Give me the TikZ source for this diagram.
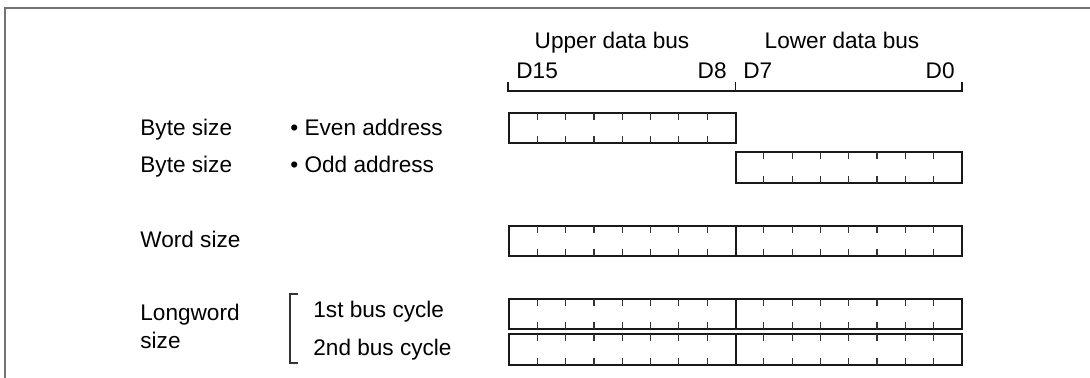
\documentclass[tikz,border=0pt]{standalone}
\usepackage{fontspec}
\setmainfont{Liberation Sans}
\usetikzlibrary{positioning}

\tikzset{
  lbl/.style={font=\fontsize{11.3}{13}\selectfont, inner sep=0pt, anchor=base west},
  regline/.style={line width=1pt, black!90},
  bitmark/.style={line width=0.6pt, black!80},
  frameline/.style={line width=0.9pt, black!55}
}

% one byte lane: 8 bits, left x and top y
\newcommand{\bytelane}[2]{%
  \draw[regline] (#1,#2) rectangle ++(226.5,30.5);
  \foreach \k in {1,...,7} {
    \draw[bitmark] ({#1+\k*28.3},#2) -- ++(0,7);
    \draw[bitmark] ({#1+\k*28.3},#2+30.5) -- ++(0,-7);
  }
}

\begin{document}
\begin{tikzpicture}[x=0.5pt, y=-0.5pt]
    \useasboundingbox (0,0) rectangle (1090,378);

    % Frame
    \draw[frameline] (1090,8) -- (5,8) -- (5,378);

    % Bus headings
    \node[lbl, anchor=base] (upperbus) at (612,49) {Upper data bus};
    \node[lbl, anchor=base] (lowerbus) at (842,49) {Lower data bus};
    \node[lbl] (d15) at (516,79) {D15};
    \node[lbl, anchor=base east] (d8) at (727,79) {D8};
    \node[lbl] (d7) at (743,79) {D7};
    \node[lbl, anchor=base east] (d0) at (955,79) {D0};
    \draw[regline, line width=0.7pt] (508,82) -- (508,91) -- (962,91) -- (962,82);
    \draw[regline, line width=0.7pt] (735.5,82) -- (735.5,91);

    % Byte size
    \node[lbl] (bytea) at (140,136) {Byte size};
    \node[lbl] (evenaddr) at (290,136) {\textbullet\ Even address};
    \node[lbl] (byteb) at (140,173) {Byte size};
    \node[lbl] (oddaddr) at (290,173) {\textbullet\ Odd address};
    \bytelane{509}{113}
    \bytelane{735.5}{152.5}

    % Word size
    \node[lbl] (word) at (140,248) {Word size};
    \bytelane{509}{226}
    \bytelane{735.5}{226}

    % Longword size
    \node[lbl] (longa) at (140,321) {Longword};
    \node[lbl] (longb) at (140,349) {size};
    \draw[bitmark, line width=0.7pt] (298,294) -- (290,294) -- (290,363) -- (298,363);
    \node[lbl] (cyc1) at (313,318) {1st bus cycle};
    \node[lbl] (cyc2) at (313,356) {2nd bus cycle};
    \bytelane{509}{299}
    \bytelane{735.5}{299}
    \bytelane{509}{334.5}
    \bytelane{735.5}{334.5}
\end{tikzpicture}
\end{document}
